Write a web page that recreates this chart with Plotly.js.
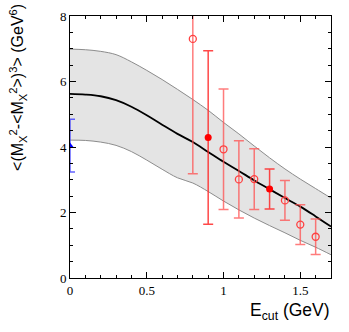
<!DOCTYPE html>
<html>
<head>
<meta charset="utf-8">
<script src="https://cdn.plot.ly/plotly-3.0.1.min.js"></script>
<style>html,body{margin:0;padding:0;background:#fff;}#chart{width:349px;height:332px;}</style>
</head>
<body>
<div id="chart"></div>
<script>
// Theory band (E_cut grid)
var bandX     = [0, 0.1, 0.2, 0.3, 0.4, 0.5, 0.6, 0.7, 0.8, 0.9, 1.0, 1.1, 1.2, 1.3, 1.4, 1.5, 1.6, 1.7];
var centralY  = [5.62, 5.60, 5.55, 5.43, 5.23, 4.97, 4.68, 4.40, 4.15, 3.85, 3.55, 3.27, 2.98, 2.71, 2.44, 2.18, 1.88, 1.57];
var upperY    = [6.99, 6.97, 6.92, 6.82, 6.60, 6.34, 6.06, 5.76, 5.45, 5.12, 4.75, 4.40, 4.03, 3.67, 3.33, 3.02, 2.73, 2.44];
var lowerY    = [4.21, 4.20, 4.15, 4.05, 3.86, 3.60, 3.32, 3.06, 2.90, 2.64, 2.35, 2.08, 1.83, 1.60, 1.38, 1.15, 0.94, 0.71];

// Open red points
var openX   = [0.8, 1.0, 1.1, 1.2, 1.4, 1.5, 1.6];
var openY   = [7.30, 3.93, 3.01, 3.02, 2.37, 1.63, 1.26];
var openErr = [4.12, 1.84, 1.18, 0.93, 0.61, 0.61, 0.54];

// Filled red points
var fillX   = [0.9, 1.3];
var fillY   = [4.29, 2.72];
var fillErr = [2.65, 0.61];

// Blue point at E_cut = 0
var blueX = [0];
var blueY = [4.03];
var blueErrPlus = [0.82];
var blueErrMinus = [0.79];

var traces = [
  {x: bandX, y: lowerY, mode: 'lines', line: {color: '#8c8c8c', width: 1, shape: 'spline'}, showlegend: false, hoverinfo: 'skip'},
  {x: bandX, y: upperY, mode: 'lines', line: {color: '#8c8c8c', width: 1, shape: 'spline'}, fill: 'tonexty', fillcolor: '#e4e4e4', showlegend: false, hoverinfo: 'skip'},
  {x: bandX, y: centralY, mode: 'lines', line: {color: '#000000', width: 1.8, shape: 'spline'}, showlegend: false},
  {x: openX, y: openY, mode: 'markers', type: 'scatter',
   marker: {symbol: 'circle-open', size: 7, color: '#ff4040', line: {width: 1.3, color: '#ff4040'}},
   error_y: {type: 'data', array: openErr, visible: true, color: 'rgba(255,80,80,0.75)', thickness: 1.5, width: 5},
   showlegend: false},
  {x: fillX, y: fillY, mode: 'markers', type: 'scatter',
   marker: {symbol: 'circle', size: 7, color: '#ff0000'},
   error_y: {type: 'data', array: fillErr, visible: true, color: 'rgba(255,40,40,0.85)', thickness: 1.5, width: 5},
   showlegend: false},
  {x: blueX, y: blueY, mode: 'markers', type: 'scatter',
   marker: {symbol: 'triangle-up', size: 7, color: '#0000ff'},
   error_y: {type: 'data', symmetric: false, array: blueErrPlus, arrayminus: blueErrMinus, visible: true, color: 'rgba(60,60,255,0.8)', thickness: 1.5, width: 5},
   showlegend: false}
];

var tickFont = {family: 'Liberation Serif, Times New Roman, serif', size: 13, color: '#000'};
var layout = {
  width: 349, height: 332,
  margin: {l: 70, r: 18, t: 16, b: 54},
  paper_bgcolor: '#fff', plot_bgcolor: '#fff',
  showlegend: false,
  xaxis: {
    range: [0, 1.7], tickvals: [0, 0.5, 1, 1.5], ticktext: ['0', '0.5', '1', '1.5'],
    ticks: 'inside', ticklen: 6, tickwidth: 1, tickcolor: '#000',
    minor: {dtick: 0.1, ticks: 'inside', ticklen: 3, tickcolor: '#000', showgrid: false},
    showline: true, linecolor: '#000', linewidth: 1, mirror: 'ticks',
    showgrid: false, zeroline: false, tickfont: tickFont
  },
  yaxis: {
    range: [0, 8], tickvals: [0, 2, 4, 6, 8], ticktext: ['0', '2', '4', '6', '8'],
    ticks: 'inside', ticklen: 6, tickwidth: 1, tickcolor: '#000',
    minor: {dtick: 0.5, ticks: 'inside', ticklen: 3, tickcolor: '#000', showgrid: false},
    showline: true, linecolor: '#000', linewidth: 1, mirror: 'ticks',
    showgrid: false, zeroline: false, tickfont: tickFont
  },
  annotations: [
    {text: 'E<sub>cut</sub> (GeV)', xref: 'paper', yref: 'paper', x: 1.005, y: -0.075,
     xanchor: 'right', yanchor: 'top', showarrow: false,
     font: {family: 'Liberation Sans, Arial, sans-serif', size: 17.5, color: '#000'}},
    {text: '&lt;(M<sub>X</sub><sup>2</sup>-&lt;M<sub>X</sub><sup>2</sup>&gt;)<sup>3</sup>&gt; (GeV<sup>6</sup>)',
     xref: 'paper', yref: 'paper', x: -0.2, y: 1.055, xanchor: 'center', yanchor: 'top',
     textangle: -90, showarrow: false,
     font: {family: 'Liberation Sans, Arial, sans-serif', size: 16, color: '#000'}}
  ]
};

Plotly.newPlot('chart', traces, layout, {staticPlot: true, displayModeBar: false});
</script>
</body>
</html>
